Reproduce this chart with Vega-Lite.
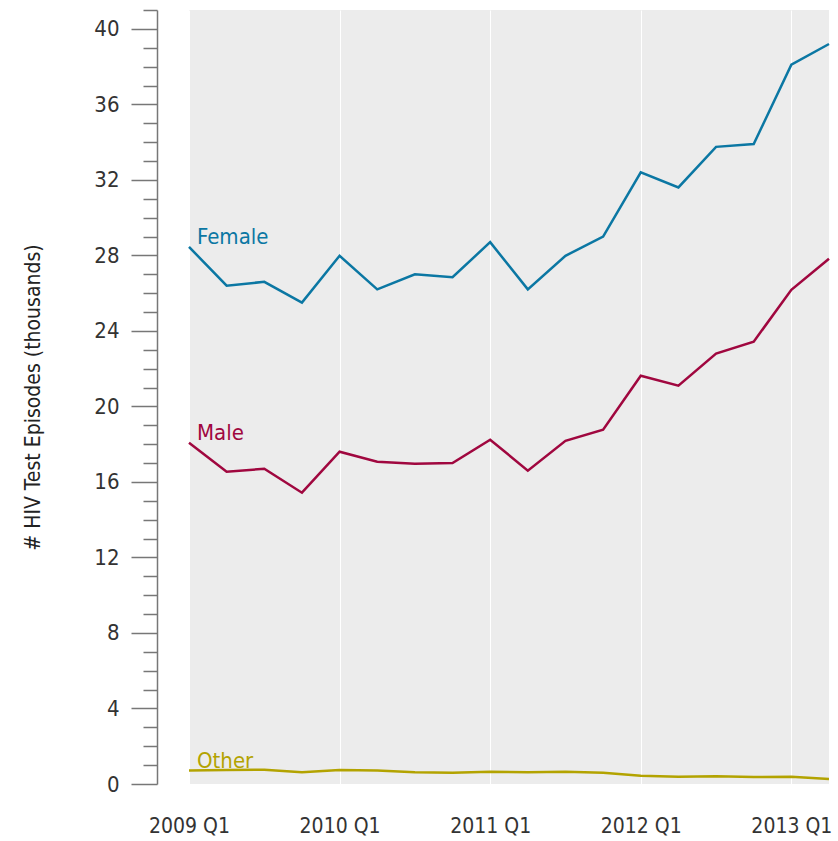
{
  "$schema": "https://vega.github.io/schema/vega-lite/v6.json",
  "width": 640,
  "height": 774,
  "autosize": "none",
  "padding": {"left": 189, "top": 10, "right": 9, "bottom": 57},
  "background": "white",
  "config": {
    "view": {"fill": "#ececec", "stroke": null},
    "font": "'DejaVu Sans Condensed', Roboto, sans-serif"
  },
  "data": {
    "values": [
      {"quarter": "2009 Q1", "group": "Female", "value": 28.45},
      {"quarter": "2009 Q2", "group": "Female", "value": 26.4},
      {"quarter": "2009 Q3", "group": "Female", "value": 26.6},
      {"quarter": "2009 Q4", "group": "Female", "value": 25.5},
      {"quarter": "2010 Q1", "group": "Female", "value": 27.98},
      {"quarter": "2010 Q2", "group": "Female", "value": 26.2},
      {"quarter": "2010 Q3", "group": "Female", "value": 27.0},
      {"quarter": "2010 Q4", "group": "Female", "value": 26.85},
      {"quarter": "2011 Q1", "group": "Female", "value": 28.7},
      {"quarter": "2011 Q2", "group": "Female", "value": 26.2},
      {"quarter": "2011 Q3", "group": "Female", "value": 27.98},
      {"quarter": "2011 Q4", "group": "Female", "value": 29.0},
      {"quarter": "2012 Q1", "group": "Female", "value": 32.4},
      {"quarter": "2012 Q2", "group": "Female", "value": 31.6},
      {"quarter": "2012 Q3", "group": "Female", "value": 33.75},
      {"quarter": "2012 Q4", "group": "Female", "value": 33.9},
      {"quarter": "2013 Q1", "group": "Female", "value": 38.1},
      {"quarter": "2013 Q2", "group": "Female", "value": 39.2},
      {"quarter": "2009 Q1", "group": "Male", "value": 18.08},
      {"quarter": "2009 Q2", "group": "Male", "value": 16.54},
      {"quarter": "2009 Q3", "group": "Male", "value": 16.7},
      {"quarter": "2009 Q4", "group": "Male", "value": 15.43},
      {"quarter": "2010 Q1", "group": "Male", "value": 17.6},
      {"quarter": "2010 Q2", "group": "Male", "value": 17.07},
      {"quarter": "2010 Q3", "group": "Male", "value": 16.96},
      {"quarter": "2010 Q4", "group": "Male", "value": 17.0},
      {"quarter": "2011 Q1", "group": "Male", "value": 18.24},
      {"quarter": "2011 Q2", "group": "Male", "value": 16.6},
      {"quarter": "2011 Q3", "group": "Male", "value": 18.18},
      {"quarter": "2011 Q4", "group": "Male", "value": 18.77},
      {"quarter": "2012 Q1", "group": "Male", "value": 21.63},
      {"quarter": "2012 Q2", "group": "Male", "value": 21.1},
      {"quarter": "2012 Q3", "group": "Male", "value": 22.8},
      {"quarter": "2012 Q4", "group": "Male", "value": 23.43},
      {"quarter": "2013 Q1", "group": "Male", "value": 26.18},
      {"quarter": "2013 Q2", "group": "Male", "value": 27.82},
      {"quarter": "2009 Q1", "group": "Other", "value": 0.71},
      {"quarter": "2009 Q2", "group": "Other", "value": 0.74},
      {"quarter": "2009 Q3", "group": "Other", "value": 0.76},
      {"quarter": "2009 Q4", "group": "Other", "value": 0.62},
      {"quarter": "2010 Q1", "group": "Other", "value": 0.74},
      {"quarter": "2010 Q2", "group": "Other", "value": 0.71},
      {"quarter": "2010 Q3", "group": "Other", "value": 0.62},
      {"quarter": "2010 Q4", "group": "Other", "value": 0.6},
      {"quarter": "2011 Q1", "group": "Other", "value": 0.65},
      {"quarter": "2011 Q2", "group": "Other", "value": 0.62},
      {"quarter": "2011 Q3", "group": "Other", "value": 0.65},
      {"quarter": "2011 Q4", "group": "Other", "value": 0.6},
      {"quarter": "2012 Q1", "group": "Other", "value": 0.44},
      {"quarter": "2012 Q2", "group": "Other", "value": 0.39},
      {"quarter": "2012 Q3", "group": "Other", "value": 0.41},
      {"quarter": "2012 Q4", "group": "Other", "value": 0.37},
      {"quarter": "2013 Q1", "group": "Other", "value": 0.39},
      {"quarter": "2013 Q2", "group": "Other", "value": 0.27}
    ]
  },
  "encoding": {
    "x": {
      "field": "quarter",
      "type": "ordinal",
      "scale": {"type": "point", "padding": 0},
      "axis": {
        "title": null,
        "values": ["2009 Q1", "2010 Q1", "2011 Q1", "2012 Q1", "2013 Q1"],
        "domain": false,
        "ticks": false,
        "grid": true,
        "gridColor": "white",
        "gridWidth": 1,
        "labelAngle": 0,
        "labelFontSize": 21,
        "labelColor": "#333333",
        "labelPadding": 31,
        "labelBaseline": "top",
        "labelOverlap": false
      }
    },
    "y": {
      "field": "value",
      "type": "quantitative",
      "scale": {"domain": [0, 41], "nice": false, "zero": true},
      "axis": {
        "title": "# HIV Test Episodes (thousands)",
        "titleFontSize": 21,
        "titleFontWeight": "normal",
        "titleColor": "#222222",
        "titlePadding": 50,
        "offset": 32,
        "values": [0,1,2,3,4,5,6,7,8,9,10,11,12,13,14,15,16,17,18,19,20,21,22,23,24,25,26,27,28,29,30,31,32,33,34,35,36,37,38,39,40,41],
        "labelExpr": "datum.value % 4 === 0 ? datum.label : ''",
        "tickSize": {"condition": {"test": "datum.value % 4 === 0", "value": 26}, "value": 14},
        "tickColor": "#777777",
        "tickWidth": 1.5,
        "domainColor": "#777777",
        "domainWidth": 1.5,
        "grid": false,
        "labelFontSize": 22,
        "labelColor": "#333333",
        "labelPadding": 12,
        "labelFlush": false
      }
    },
    "color": {
      "field": "group",
      "type": "nominal",
      "scale": {"domain": ["Female", "Male", "Other"], "range": ["#0b77a3", "#a0073f", "#b3a300"]},
      "legend": null
    }
  },
  "layer": [
    {"mark": {"type": "line", "strokeWidth": 2.5}},
    {
      "transform": [{"filter": "datum.quarter === '2009 Q1'"}],
      "mark": {"type": "text", "align": "left", "baseline": "alphabetic", "dx": 8, "dy": -3, "fontSize": 22},
      "encoding": {"text": {"field": "group"}}
    }
  ]
}
